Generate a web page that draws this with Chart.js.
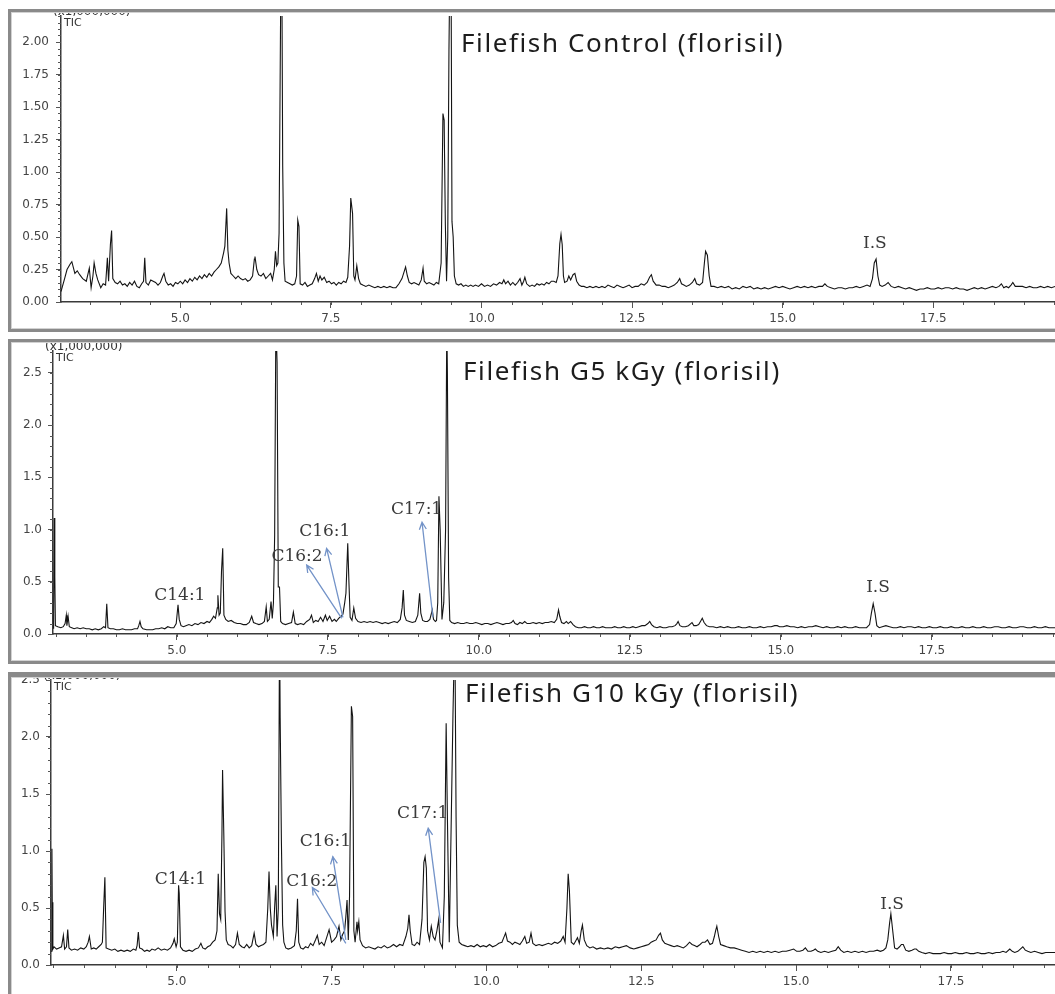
<!DOCTYPE html>
<html lang="en">
<head>
<meta charset="UTF-8">
<title>Filefish TIC chromatograms (florisil)</title>
<style>
    body {
        margin: 0;
        width: 1055px;
        height: 994px;
        overflow: hidden;
        position: relative;
        background: #fff;
    }
    canvas {
        position: absolute;
        left: 0;
    }
    .frame {
        position: absolute;
        left: 8px;
        width: 1100px;
        box-sizing: border-box;
        border: 3px solid #8a8a8a;
        box-shadow: inset 0 0 0 1px #d2d2d2;
        pointer-events: none;
    }
    .title {
        position: absolute;
        font-family: 'Noto Sans', sans-serif;
        font-size: 26px;
        line-height: 26px;
        letter-spacing: 1.6px;
        color: #1c1c1c;
        white-space: nowrap;
    }
</style>
</head>
<body>
    <canvas id="controlChart" width="1055" height="323" style="top:9px"></canvas>
    <canvas id="g5Chart" width="1055" height="325" style="top:339px"></canvas>
    <canvas id="g10Chart" width="1055" height="322" style="top:672px"></canvas>

    <div class="frame" style="top:9px; height:323px"></div>
    <div class="frame" style="top:339px; height:325px"></div>
    <div class="frame" style="top:672px; height:340px; border-top-width:5px"></div>

    <div class="title" style="left:461px; top:29px">Filefish Control (florisil)</div>
    <div class="title" style="left:463px; top:357px">Filefish G5 kGy (florisil)</div>
    <div class="title" style="left:465px; top:679px">Filefish G10 kGy (florisil)</div>

<script src="https://cdn.jsdelivr.net/npm/chart.js"></script>
<script>
// retention time ticks (min) shared by all three runs
const xTickValues = [5.0, 7.5, 10.0, 12.5, 15.0, 17.5];
// intensity ticks, x1,000,000
const yTicksControl = [0, 0.25, 0.5, 0.75, 1.0, 1.25, 1.5, 1.75, 2.0];
const yTicksIrradiated = [0, 0.5, 1.0, 1.5, 2.0, 2.5];

// TIC traces as [time (min), intensity (x1,000,000)]
const controlTic = [
    [3.02,0.08],[3.08,0.18],[3.12,0.25],[3.17,0.29],[3.20,0.31],[3.25,0.22],[3.29,0.24],[3.33,0.21],[3.38,0.18],
    [3.44,0.16],[3.47,0.22],[3.49,0.26],[3.52,0.11],[3.55,0.20],[3.57,0.30],[3.60,0.22],[3.63,0.17],[3.68,0.11],
    [3.72,0.14],[3.76,0.13],[3.79,0.34],[3.81,0.16],[3.84,0.44],[3.86,0.55],[3.88,0.18],[3.92,0.15],[3.96,0.14],
    [4.00,0.16],[4.04,0.13],[4.08,0.14],[4.12,0.12],[4.16,0.15],[4.20,0.13],[4.24,0.16],[4.28,0.12],[4.32,0.11],
    [4.36,0.14],[4.39,0.16],[4.41,0.34],[4.43,0.15],[4.47,0.13],[4.51,0.17],[4.55,0.16],[4.59,0.15],[4.63,0.13],
    [4.67,0.15],[4.71,0.20],[4.73,0.22],[4.76,0.16],[4.80,0.13],[4.84,0.14],[4.88,0.12],[4.92,0.15],[4.96,0.14],
    [5.00,0.16],[5.04,0.14],[5.08,0.17],[5.12,0.15],[5.16,0.18],[5.20,0.16],[5.24,0.19],[5.28,0.17],[5.32,0.20],
    [5.36,0.18],[5.40,0.21],[5.44,0.19],[5.48,0.22],[5.52,0.20],[5.56,0.23],[5.60,0.25],[5.64,0.27],[5.68,0.30],
    [5.72,0.38],[5.74,0.43],[5.77,0.72],[5.79,0.40],[5.81,0.30],[5.84,0.22],[5.88,0.20],[5.92,0.18],[5.96,0.20],
    [6.00,0.18],[6.04,0.17],[6.08,0.18],[6.12,0.16],[6.16,0.17],[6.20,0.20],[6.23,0.33],[6.24,0.35],[6.27,0.25],
    [6.30,0.21],[6.34,0.20],[6.38,0.22],[6.42,0.18],[6.46,0.20],[6.50,0.22],[6.53,0.17],[6.56,0.25],[6.58,0.39],
    [6.60,0.28],[6.62,0.30],[6.64,0.53],[6.68,3.20],[6.70,1.05],[6.72,0.30],[6.74,0.16],[6.78,0.15],[6.82,0.14],
    [6.86,0.13],[6.90,0.14],[6.93,0.20],[6.95,0.63],[6.97,0.58],[6.99,0.14],[7.03,0.13],[7.07,0.15],[7.11,0.12],
    [7.15,0.13],[7.19,0.14],[7.23,0.18],[7.26,0.22],[7.29,0.16],[7.32,0.20],[7.35,0.17],[7.39,0.19],[7.43,0.15],
    [7.47,0.16],[7.51,0.14],[7.55,0.15],[7.59,0.13],[7.63,0.15],[7.67,0.14],[7.71,0.16],[7.75,0.15],[7.78,0.19],
    [7.81,0.43],[7.83,0.80],[7.86,0.68],[7.88,0.20],[7.90,0.17],[7.93,0.28],[7.96,0.18],[7.99,0.14],[8.03,0.13],
    [8.08,0.12],[8.13,0.13],[8.18,0.12],[8.23,0.11],[8.28,0.12],[8.33,0.11],[8.38,0.12],[8.43,0.11],[8.48,0.12],
    [8.53,0.11],[8.58,0.11],[8.63,0.14],[8.68,0.18],[8.72,0.24],[8.74,0.27],[8.77,0.20],[8.80,0.15],[8.84,0.14],
    [8.88,0.15],[8.92,0.14],[8.96,0.13],[9.00,0.17],[9.03,0.26],[9.05,0.16],[9.09,0.14],[9.13,0.15],[9.17,0.14],
    [9.21,0.13],[9.25,0.15],[9.29,0.14],[9.33,0.30],[9.36,1.45],[9.38,1.40],[9.40,0.60],[9.42,0.16],[9.44,0.50],
    [9.46,1.94],[9.49,3.20],[9.51,0.62],[9.53,0.50],[9.55,0.20],[9.58,0.14],[9.62,0.13],[9.66,0.14],[9.70,0.12],
    [9.74,0.13],[9.78,0.12],[9.82,0.13],[9.86,0.12],[9.90,0.13],[9.95,0.12],[10.00,0.14],[10.05,0.12],[10.10,0.13],
    [10.15,0.12],[10.20,0.14],[10.25,0.13],[10.30,0.15],[10.34,0.14],[10.37,0.17],[10.40,0.14],[10.44,0.16],
    [10.48,0.13],[10.52,0.15],[10.56,0.13],[10.60,0.15],[10.64,0.18],[10.67,0.13],[10.70,0.16],[10.72,0.19],
    [10.75,0.14],[10.80,0.12],[10.84,0.13],[10.88,0.12],[10.92,0.14],[10.96,0.13],[11.00,0.14],[11.04,0.13],
    [11.08,0.15],[11.12,0.14],[11.16,0.16],[11.20,0.16],[11.24,0.15],[11.27,0.20],[11.30,0.45],[11.32,0.52],
    [11.34,0.44],[11.36,0.20],[11.38,0.15],[11.42,0.16],[11.45,0.20],[11.48,0.17],[11.52,0.21],[11.55,0.22],
    [11.58,0.16],[11.62,0.13],[11.66,0.12],[11.70,0.12],[11.75,0.11],[11.80,0.12],[11.85,0.11],[11.90,0.12],
    [11.95,0.11],[12.00,0.12],[12.05,0.11],[12.10,0.13],[12.15,0.12],[12.20,0.11],[12.25,0.13],[12.30,0.12],
    [12.35,0.11],[12.40,0.12],[12.45,0.13],[12.50,0.11],[12.55,0.12],[12.60,0.12],[12.65,0.14],[12.70,0.13],
    [12.75,0.15],[12.79,0.19],[12.82,0.21],[12.85,0.16],[12.90,0.13],[12.95,0.13],[13.00,0.12],[13.05,0.12],
    [13.10,0.11],[13.15,0.12],[13.20,0.13],[13.25,0.15],[13.29,0.18],[13.32,0.14],[13.36,0.13],[13.40,0.12],
    [13.45,0.13],[13.50,0.15],[13.54,0.18],[13.57,0.14],[13.62,0.13],[13.67,0.15],[13.70,0.30],[13.72,0.39],
    [13.75,0.36],[13.78,0.20],[13.81,0.12],[13.86,0.12],[13.92,0.11],[13.98,0.12],[14.04,0.11],[14.10,0.12],
    [14.16,0.10],[14.22,0.11],[14.28,0.10],[14.34,0.12],[14.40,0.11],[14.46,0.12],[14.52,0.10],[14.58,0.11],
    [14.64,0.10],[14.70,0.11],[14.76,0.10],[14.82,0.11],[14.88,0.12],[14.94,0.11],[15.00,0.12],[15.06,0.11],
    [15.12,0.10],[15.18,0.11],[15.24,0.12],[15.30,0.11],[15.36,0.12],[15.42,0.11],[15.48,0.12],[15.54,0.11],
    [15.60,0.12],[15.66,0.12],[15.70,0.14],[15.74,0.12],[15.80,0.11],[15.86,0.10],[15.92,0.11],[15.98,0.11],
    [16.04,0.10],[16.10,0.11],[16.16,0.11],[16.22,0.12],[16.28,0.11],[16.34,0.12],[16.40,0.13],[16.45,0.12],
    [16.49,0.18],[16.52,0.30],[16.55,0.33],[16.58,0.20],[16.61,0.13],[16.65,0.12],[16.70,0.13],[16.75,0.15],
    [16.80,0.12],[16.86,0.11],[16.92,0.12],[16.98,0.11],[17.04,0.10],[17.10,0.11],[17.16,0.10],[17.22,0.09],
    [17.28,0.10],[17.34,0.10],[17.40,0.11],[17.46,0.10],[17.52,0.10],[17.58,0.11],[17.64,0.10],[17.70,0.11],
    [17.76,0.11],[17.82,0.10],[17.88,0.11],[17.94,0.10],[18.00,0.10],[18.06,0.09],[18.12,0.10],[18.18,0.11],
    [18.24,0.10],[18.30,0.11],[18.36,0.10],[18.42,0.11],[18.48,0.12],[18.54,0.11],[18.59,0.12],[18.63,0.14],
    [18.67,0.11],[18.71,0.12],[18.75,0.11],[18.79,0.13],[18.82,0.15],[18.86,0.12],[18.92,0.12],[18.98,0.12],
    [19.04,0.11],[19.10,0.12],[19.16,0.11],[19.22,0.11],[19.28,0.12],[19.34,0.11],[19.40,0.12],[19.46,0.11],
    [19.52,0.12]
];

const g5Tic = [
    [2.96,0.05],[2.97,1.11],[2.98,0.55],[2.99,0.08],[3.03,0.07],[3.08,0.06],[3.12,0.07],[3.15,0.10],[3.17,0.18],
    [3.18,0.08],[3.20,0.17],[3.22,0.07],[3.26,0.06],[3.30,0.05],[3.35,0.06],[3.40,0.05],[3.45,0.06],[3.50,0.05],
    [3.55,0.05],[3.60,0.04],[3.65,0.05],[3.70,0.04],[3.75,0.05],[3.79,0.07],[3.82,0.06],[3.84,0.29],[3.86,0.06],
    [3.90,0.05],[3.95,0.05],[4.00,0.04],[4.05,0.04],[4.10,0.05],[4.15,0.04],[4.20,0.04],[4.25,0.04],[4.30,0.05],
    [4.35,0.05],[4.37,0.08],[4.39,0.12],[4.41,0.07],[4.44,0.05],[4.50,0.04],[4.55,0.04],[4.60,0.04],[4.65,0.05],
    [4.70,0.05],[4.75,0.06],[4.80,0.05],[4.85,0.07],[4.90,0.06],[4.95,0.06],[4.99,0.10],[5.02,0.28],[5.04,0.14],
    [5.07,0.08],[5.11,0.07],[5.15,0.08],[5.20,0.09],[5.25,0.08],[5.30,0.10],[5.35,0.09],[5.40,0.11],[5.45,0.10],
    [5.50,0.12],[5.54,0.11],[5.58,0.14],[5.61,0.17],[5.64,0.15],[5.67,0.25],[5.68,0.37],[5.70,0.18],[5.72,0.20],
    [5.74,0.60],[5.76,0.82],[5.78,0.18],[5.81,0.14],[5.85,0.12],[5.90,0.13],[5.95,0.11],[6.00,0.10],[6.05,0.10],
    [6.10,0.09],[6.15,0.09],[6.20,0.11],[6.24,0.17],[6.27,0.11],[6.31,0.10],[6.36,0.09],[6.41,0.10],[6.45,0.12],
    [6.48,0.26],[6.50,0.12],[6.53,0.14],[6.56,0.31],[6.58,0.15],[6.60,0.30],[6.62,0.95],[6.64,3.00],[6.66,2.60],
    [6.68,0.45],[6.70,0.45],[6.72,0.12],[6.75,0.10],[6.80,0.09],[6.85,0.10],[6.90,0.11],[6.93,0.21],[6.96,0.10],
    [7.00,0.09],[7.05,0.10],[7.10,0.09],[7.15,0.12],[7.20,0.14],[7.23,0.18],[7.26,0.11],[7.30,0.13],[7.34,0.12],
    [7.38,0.16],[7.42,0.12],[7.46,0.18],[7.49,0.13],[7.53,0.17],[7.57,0.12],[7.61,0.14],[7.64,0.12],[7.68,0.15],
    [7.72,0.17],[7.75,0.19],[7.78,0.30],[7.80,0.39],[7.83,0.87],[7.85,0.49],[7.87,0.16],[7.90,0.13],[7.93,0.25],
    [7.96,0.15],[8.00,0.12],[8.05,0.11],[8.10,0.12],[8.15,0.11],[8.20,0.12],[8.25,0.11],[8.30,0.12],[8.35,0.11],
    [8.40,0.10],[8.45,0.11],[8.50,0.10],[8.55,0.11],[8.60,0.12],[8.65,0.11],[8.70,0.14],[8.73,0.25],[8.75,0.42],
    [8.77,0.18],[8.80,0.13],[8.85,0.12],[8.90,0.11],[8.95,0.12],[8.99,0.18],[9.02,0.39],[9.04,0.20],[9.07,0.13],
    [9.11,0.12],[9.15,0.12],[9.19,0.14],[9.23,0.23],[9.25,0.14],[9.28,0.12],[9.30,0.13],[9.32,0.30],[9.34,1.32],
    [9.36,1.00],[9.39,0.14],[9.42,0.30],[9.45,1.00],[9.47,3.00],[9.48,2.50],[9.50,0.54],[9.52,0.13],[9.55,0.11],
    [9.60,0.10],[9.65,0.11],[9.70,0.10],[9.75,0.10],[9.80,0.11],[9.85,0.10],[9.90,0.10],[9.95,0.11],[10.00,0.10],
    [10.05,0.09],[10.10,0.10],[10.15,0.10],[10.20,0.09],[10.25,0.10],[10.30,0.11],[10.35,0.10],[10.40,0.09],
    [10.45,0.10],[10.50,0.10],[10.54,0.11],[10.57,0.13],[10.60,0.10],[10.64,0.09],[10.68,0.11],[10.72,0.10],
    [10.76,0.12],[10.80,0.10],[10.85,0.10],[10.90,0.11],[10.95,0.10],[11.00,0.11],[11.05,0.10],[11.10,0.11],
    [11.15,0.11],[11.20,0.12],[11.25,0.11],[11.29,0.14],[11.32,0.23],[11.34,0.17],[11.37,0.11],[11.41,0.10],
    [11.45,0.12],[11.48,0.10],[11.52,0.12],[11.56,0.09],[11.60,0.07],[11.65,0.06],[11.70,0.06],[11.75,0.07],
    [11.80,0.06],[11.85,0.06],[11.90,0.07],[11.95,0.06],[12.00,0.06],[12.05,0.07],[12.10,0.06],[12.15,0.06],
    [12.20,0.06],[12.25,0.07],[12.30,0.06],[12.35,0.06],[12.40,0.07],[12.45,0.06],[12.50,0.06],[12.55,0.07],
    [12.60,0.06],[12.65,0.07],[12.70,0.08],[12.75,0.08],[12.80,0.10],[12.83,0.12],[12.86,0.09],[12.90,0.07],
    [12.95,0.06],[13.00,0.07],[13.05,0.06],[13.10,0.06],[13.15,0.07],[13.20,0.07],[13.25,0.08],[13.28,0.10],
    [13.30,0.12],[13.33,0.08],[13.37,0.07],[13.42,0.07],[13.47,0.08],[13.51,0.10],[13.53,0.11],[13.56,0.08],
    [13.60,0.08],[13.64,0.09],[13.67,0.12],[13.70,0.15],[13.73,0.11],[13.77,0.08],[13.82,0.07],[13.88,0.07],
    [13.94,0.06],[14.00,0.07],[14.06,0.06],[14.12,0.07],[14.18,0.06],[14.24,0.06],[14.30,0.07],[14.36,0.06],
    [14.42,0.06],[14.48,0.07],[14.54,0.06],[14.60,0.06],[14.66,0.07],[14.72,0.06],[14.78,0.07],[14.84,0.07],
    [14.90,0.08],[14.94,0.08],[14.98,0.07],[15.04,0.07],[15.10,0.08],[15.16,0.07],[15.22,0.07],[15.28,0.06],
    [15.34,0.07],[15.40,0.06],[15.46,0.07],[15.52,0.07],[15.58,0.08],[15.64,0.07],[15.70,0.06],[15.76,0.07],
    [15.82,0.06],[15.88,0.06],[15.94,0.07],[16.00,0.06],[16.06,0.07],[16.12,0.06],[16.18,0.06],[16.24,0.07],
    [16.30,0.06],[16.36,0.06],[16.42,0.06],[16.47,0.09],[16.50,0.20],[16.53,0.29],[16.56,0.20],[16.59,0.08],
    [16.63,0.06],[16.68,0.07],[16.74,0.08],[16.80,0.07],[16.86,0.06],[16.92,0.06],[16.98,0.07],[17.04,0.06],
    [17.10,0.07],[17.16,0.07],[17.22,0.06],[17.28,0.07],[17.34,0.06],[17.40,0.06],[17.46,0.07],[17.52,0.06],
    [17.58,0.06],[17.64,0.07],[17.70,0.06],[17.76,0.06],[17.82,0.07],[17.88,0.06],[17.94,0.06],[18.00,0.07],
    [18.06,0.06],[18.12,0.06],[18.18,0.07],[18.24,0.06],[18.30,0.06],[18.36,0.07],[18.42,0.06],[18.48,0.06],
    [18.54,0.07],[18.60,0.07],[18.66,0.06],[18.72,0.06],[18.78,0.07],[18.84,0.06],[18.90,0.06],[18.96,0.07],
    [19.02,0.07],[19.08,0.06],[19.14,0.06],[19.20,0.07],[19.26,0.06],[19.32,0.06],[19.38,0.07],[19.44,0.06],
    [19.50,0.06],[19.54,0.06]
];

const g10Tic = [
    [2.97,0.12],[2.985,1.02],[2.99,0.55],[3.00,0.14],[3.02,0.16],[3.06,0.14],[3.10,0.15],[3.14,0.16],[3.17,0.26],
    [3.19,0.14],[3.22,0.16],[3.24,0.31],[3.26,0.15],[3.30,0.13],[3.35,0.14],[3.40,0.13],[3.45,0.15],[3.50,0.14],
    [3.54,0.16],[3.57,0.20],[3.59,0.25],[3.62,0.14],[3.66,0.15],[3.70,0.14],[3.74,0.16],[3.78,0.18],[3.80,0.20],
    [3.82,0.50],[3.84,0.77],[3.86,0.15],[3.90,0.14],[3.95,0.13],[4.00,0.14],[4.05,0.12],[4.10,0.13],[4.15,0.12],
    [4.20,0.13],[4.25,0.12],[4.30,0.14],[4.34,0.13],[4.36,0.17],[4.38,0.29],[4.40,0.15],[4.44,0.14],[4.48,0.12],
    [4.52,0.13],[4.56,0.12],[4.60,0.14],[4.65,0.13],[4.70,0.15],[4.75,0.13],[4.80,0.14],[4.85,0.13],[4.90,0.15],
    [4.94,0.19],[4.96,0.23],[4.99,0.16],[5.01,0.20],[5.03,0.70],[5.04,0.63],[5.06,0.16],[5.10,0.13],[5.15,0.12],
    [5.20,0.13],[5.25,0.12],[5.30,0.14],[5.35,0.15],[5.39,0.19],[5.42,0.15],[5.46,0.14],[5.50,0.16],[5.54,0.17],
    [5.58,0.20],[5.62,0.22],[5.65,0.30],[5.67,0.80],[5.69,0.45],[5.71,0.40],[5.73,1.15],[5.74,1.71],[5.76,1.15],
    [5.78,0.47],[5.80,0.22],[5.83,0.18],[5.87,0.17],[5.91,0.15],[5.95,0.18],[5.98,0.28],[6.01,0.18],[6.05,0.16],
    [6.09,0.15],[6.13,0.18],[6.17,0.15],[6.21,0.17],[6.25,0.28],[6.28,0.18],[6.32,0.16],[6.36,0.17],[6.40,0.18],
    [6.44,0.20],[6.47,0.50],[6.49,0.82],[6.51,0.50],[6.53,0.35],[6.56,0.25],[6.58,0.50],[6.60,0.70],[6.62,0.25],
    [6.64,0.50],[6.66,3.00],[6.67,2.17],[6.69,1.08],[6.71,0.35],[6.73,0.20],[6.76,0.15],[6.80,0.14],[6.85,0.15],
    [6.90,0.17],[6.93,0.30],[6.95,0.58],[6.97,0.20],[7.00,0.15],[7.04,0.14],[7.08,0.16],[7.12,0.15],[7.16,0.19],
    [7.20,0.17],[7.24,0.22],[7.27,0.26],[7.30,0.18],[7.34,0.20],[7.38,0.17],[7.42,0.24],[7.46,0.31],[7.50,0.20],
    [7.54,0.22],[7.58,0.25],[7.62,0.34],[7.65,0.22],[7.68,0.27],[7.71,0.30],[7.73,0.42],[7.75,0.57],[7.77,0.22],
    [7.79,0.60],[7.82,2.27],[7.84,2.18],[7.86,0.30],[7.88,0.20],[7.91,0.38],[7.92,0.30],[7.94,0.38],[7.96,0.22],
    [8.00,0.17],[8.05,0.15],[8.10,0.16],[8.15,0.15],[8.20,0.14],[8.25,0.16],[8.30,0.15],[8.35,0.17],[8.40,0.15],
    [8.45,0.16],[8.50,0.18],[8.55,0.16],[8.60,0.18],[8.65,0.17],[8.70,0.25],[8.73,0.32],[8.75,0.44],[8.77,0.30],
    [8.80,0.18],[8.84,0.17],[8.88,0.20],[8.92,0.18],[8.96,0.40],[8.99,0.90],[9.01,0.95],[9.03,0.85],[9.05,0.30],
    [9.08,0.22],[9.11,0.34],[9.14,0.25],[9.17,0.22],[9.20,0.30],[9.23,0.40],[9.25,0.20],[9.29,0.15],[9.32,0.60],
    [9.35,2.12],[9.37,1.30],[9.40,0.20],[9.43,1.20],[9.46,2.20],[9.49,3.00],[9.51,1.30],[9.53,0.35],[9.56,0.20],
    [9.60,0.18],[9.65,0.17],[9.70,0.16],[9.75,0.17],[9.80,0.16],[9.85,0.18],[9.90,0.16],[9.95,0.17],[10.00,0.16],
    [10.05,0.18],[10.10,0.16],[10.15,0.17],[10.20,0.19],[10.25,0.20],[10.28,0.24],[10.31,0.28],[10.34,0.21],
    [10.38,0.20],[10.42,0.18],[10.46,0.20],[10.50,0.19],[10.54,0.18],[10.58,0.21],[10.62,0.25],[10.65,0.19],
    [10.69,0.20],[10.72,0.28],[10.75,0.19],[10.80,0.17],[10.85,0.18],[10.90,0.17],[10.95,0.18],[11.00,0.19],
    [11.05,0.18],[11.10,0.20],[11.15,0.19],[11.20,0.21],[11.24,0.25],[11.27,0.20],[11.30,0.50],[11.32,0.80],
    [11.34,0.65],[11.37,0.20],[11.41,0.18],[11.45,0.22],[11.47,0.24],[11.50,0.19],[11.53,0.30],[11.55,0.35],
    [11.58,0.22],[11.62,0.17],[11.67,0.15],[11.72,0.16],[11.78,0.14],[11.84,0.15],[11.90,0.14],[11.96,0.15],
    [12.02,0.14],[12.08,0.16],[12.14,0.15],[12.20,0.16],[12.26,0.17],[12.32,0.15],[12.38,0.14],[12.44,0.15],
    [12.50,0.16],[12.56,0.17],[12.62,0.18],[12.66,0.20],[12.70,0.21],[12.74,0.22],[12.78,0.26],[12.81,0.28],
    [12.84,0.22],[12.88,0.19],[12.93,0.18],[12.98,0.17],[13.03,0.16],[13.08,0.17],[13.13,0.16],[13.18,0.15],
    [13.23,0.17],[13.28,0.20],[13.32,0.18],[13.36,0.17],[13.40,0.16],[13.45,0.18],[13.49,0.20],[13.53,0.20],
    [13.57,0.22],[13.61,0.18],[13.65,0.19],[13.68,0.25],[13.70,0.30],[13.72,0.34],[13.75,0.25],[13.78,0.18],
    [13.83,0.17],[13.88,0.16],[13.94,0.15],[14.00,0.15],[14.06,0.14],[14.12,0.13],[14.18,0.12],[14.24,0.11],
    [14.30,0.12],[14.36,0.11],[14.42,0.12],[14.48,0.11],[14.54,0.12],[14.60,0.11],[14.66,0.12],[14.72,0.11],
    [14.78,0.12],[14.84,0.12],[14.90,0.13],[14.96,0.14],[15.01,0.12],[15.06,0.12],[15.11,0.13],[15.15,0.15],
    [15.19,0.12],[15.24,0.12],[15.28,0.13],[15.31,0.14],[15.35,0.12],[15.40,0.11],[15.46,0.12],[15.52,0.11],
    [15.58,0.12],[15.64,0.13],[15.68,0.16],[15.72,0.13],[15.77,0.11],[15.83,0.12],[15.89,0.11],[15.95,0.12],
    [16.01,0.11],[16.07,0.12],[16.13,0.11],[16.19,0.12],[16.25,0.12],[16.31,0.13],[16.36,0.12],[16.41,0.13],
    [16.45,0.15],[16.48,0.22],[16.51,0.37],[16.53,0.45],[16.56,0.30],[16.59,0.15],[16.63,0.14],[16.67,0.16],
    [16.70,0.18],[16.73,0.18],[16.77,0.13],[16.82,0.12],[16.87,0.13],[16.91,0.14],[16.94,0.14],[16.98,0.12],
    [17.03,0.11],[17.09,0.10],[17.15,0.11],[17.21,0.10],[17.27,0.10],[17.33,0.10],[17.39,0.11],[17.45,0.10],
    [17.51,0.10],[17.57,0.11],[17.63,0.10],[17.69,0.10],[17.75,0.11],[17.81,0.10],[17.87,0.10],[17.93,0.11],
    [17.99,0.10],[18.05,0.10],[18.11,0.11],[18.17,0.10],[18.23,0.11],[18.29,0.11],[18.34,0.12],[18.39,0.11],
    [18.45,0.14],[18.49,0.12],[18.53,0.11],[18.58,0.12],[18.62,0.14],[18.66,0.16],[18.70,0.13],[18.74,0.12],
    [18.79,0.11],[18.85,0.12],[18.91,0.11],[18.97,0.10],[19.03,0.11],[19.09,0.11],[19.15,0.11],[19.18,0.11]
];

// peak labels: text anchor and optional arrow (peak -> label), in time/intensity units
const controlNotes = [
    { text: 'I.S', at: [16.53, 0.45] }
];
const g5Notes = [
    { text: 'C14:1', at: [5.05, 0.37] },
    { text: 'C16:2', at: [6.99, 0.74], from: [7.73, 0.15], to: [7.15, 0.66] },
    { text: 'C16:1', at: [7.45, 0.98], from: [7.75, 0.16], to: [7.48, 0.82] },
    { text: 'C17:1', at: [8.97, 1.19], from: [9.24, 0.16], to: [9.06, 1.07] },
    { text: 'I.S', at: [16.61, 0.44] }
];
const g10Notes = [
    { text: 'C14:1', at: [5.06, 0.75] },
    { text: 'C16:2', at: [7.18, 0.73], from: [7.73, 0.19], to: [7.19, 0.68] },
    { text: 'C16:1', at: [7.40, 1.08], from: [7.73, 0.22], to: [7.52, 0.95] },
    { text: 'C17:1', at: [8.97, 1.33], from: [9.26, 0.37], to: [9.06, 1.20] },
    { text: 'I.S', at: [16.55, 0.53] }
];

Chart.defaults.font.family = '"DejaVu Sans", sans-serif';

// short ticks between the labelled ones on both axes
const minorTicks = {
    id: 'minorTicks',
    afterDraw(chart, args, opts) {
        const { ctx, chartArea } = chart;
        const x = chart.scales.x, y = chart.scales.y;
        ctx.save();
        ctx.strokeStyle = '#555';
        ctx.lineWidth = 1;
        ctx.beginPath();
        for (let i = Math.ceil(x.min / opts.xStep); i * opts.xStep <= x.max; i++) {
            const px = Math.round(x.getPixelForValue(i * opts.xStep)) + 0.5;
            ctx.moveTo(px, chartArea.bottom);
            ctx.lineTo(px, chartArea.bottom + 3);
        }
        for (let i = 0; i * opts.yStep <= y.max + 1e-9; i++) {
            const py = Math.round(y.getPixelForValue(i * opts.yStep)) + 0.5;
            ctx.moveTo(chartArea.left - 3, py);
            ctx.lineTo(chartArea.left, py);
        }
        ctx.stroke();
        ctx.restore();
    }
};

function drawArrow(ctx, x0, y0, x1, y1) {
    const a = Math.atan2(y1 - y0, x1 - x0);
    const head = 8, spread = 0.45;
    ctx.beginPath();
    ctx.moveTo(x0, y0);
    ctx.lineTo(x1, y1);
    ctx.moveTo(x1 - head * Math.cos(a - spread), y1 - head * Math.sin(a - spread));
    ctx.lineTo(x1, y1);
    ctx.lineTo(x1 - head * Math.cos(a + spread), y1 - head * Math.sin(a + spread));
    ctx.stroke();
}

// TIC header plus compound labels and arrows
const peakNotes = {
    id: 'peakNotes',
    afterDatasetsDraw(chart, args, opts) {
        const { ctx, chartArea } = chart;
        const x = chart.scales.x, y = chart.scales.y;
        ctx.save();
        ctx.fillStyle = '#333';
        ctx.font = '12px "DejaVu Sans"';
        ctx.textAlign = 'left';
        ctx.textBaseline = 'alphabetic';
        ctx.fillText('(x1,000,000)', chartArea.left - 8, chartArea.top - 1);
        ctx.font = '11px "DejaVu Sans"';
        ctx.textBaseline = 'top';
        ctx.fillText('TIC', chartArea.left + 3, chartArea.top + 2);

        ctx.strokeStyle = '#7393c8';
        ctx.lineWidth = 1.3;
        opts.notes.forEach(n => {
            if (n.from) {
                drawArrow(ctx, x.getPixelForValue(n.from[0]), y.getPixelForValue(n.from[1]),
                    x.getPixelForValue(n.to[0]), y.getPixelForValue(n.to[1]));
            }
        });
        ctx.font = '17px "DejaVu Serif"';
        ctx.fillStyle = '#3a3a3a';
        ctx.textAlign = 'center';
        ctx.textBaseline = 'middle';
        opts.notes.forEach(n => {
            ctx.fillText(n.text, x.getPixelForValue(n.at[0]), y.getPixelForValue(n.at[1]));
        });
        ctx.restore();
    }
};

const panels = [
    { id: 'controlChart', trace: controlTic, notes: controlNotes, xMin: 3.02, xMax: 19.52, yMax: 2.2,
      yTicks: yTicksControl, yDigits: 2, yMinor: 0.05, yWidth: 61, xHeight: 30, padTop: 7, yPad: 7 },
    { id: 'g5Chart', trace: g5Tic, notes: g5Notes, xMin: 2.95, xMax: 19.54, yMax: 2.71,
      yTicks: yTicksIrradiated, yDigits: 1, yMinor: 0.1, yWidth: 53, xHeight: 30, padTop: 12, yPad: 6 },
    { id: 'g10Chart', trace: g10Tic, notes: g10Notes, xMin: 2.97, xMax: 19.18, yMax: 2.5,
      yTicks: yTicksIrradiated, yDigits: 1, yMinor: 0.1, yWidth: 51, xHeight: 29, padTop: 8, yPad: 6 }
];

panels.forEach(p => {
    new Chart(document.getElementById(p.id), {
        type: 'line',
        data: {
            datasets: [{
                data: p.trace.map(([t, v]) => ({ x: t, y: v })),
                borderColor: '#141414',
                borderWidth: 1.1,
                pointRadius: 0,
                tension: 0
            }]
        },
        options: {
            responsive: false,
            animation: false,
            events: [],
            layout: { padding: { top: p.padTop, left: 0, right: 0, bottom: 0 } },
            plugins: {
                legend: { display: false },
                tooltip: { enabled: false },
                minorTicks: { xStep: 0.5, yStep: p.yMinor },
                peakNotes: { notes: p.notes }
            },
            scales: {
                x: {
                    type: 'linear',
                    min: p.xMin,
                    max: p.xMax,
                    afterBuildTicks: s => { s.ticks = xTickValues.map(v => ({ value: v })); },
                    // fixed axis band, no extra room reserved for edge labels
                    afterFit: s => { s.height = p.xHeight; s.paddingLeft = 0; s.paddingRight = 0; },
                    ticks: { callback: v => v.toFixed(1), padding: 4, color: '#444', font: { size: 12 },
                             maxRotation: 0, autoSkip: false },
                    grid: { drawOnChartArea: false, tickLength: 6, color: '#555' },
                    border: { color: '#3a3a3a', width: 1.5 }
                },
                y: {
                    min: 0,
                    max: p.yMax,
                    afterBuildTicks: s => { s.ticks = p.yTicks.map(v => ({ value: v })); },
                    afterFit: s => { s.width = p.yWidth; s.paddingTop = 0; s.paddingBottom = 0; },
                    ticks: { callback: v => v.toFixed(p.yDigits), padding: p.yPad, color: '#444',
                             font: { size: 12 }, autoSkip: false },
                    grid: { drawOnChartArea: false, tickLength: 5, color: '#555' },
                    border: { color: '#3a3a3a', width: 1.5 }
                }
            }
        },
        plugins: [minorTicks, peakNotes]
    });
});
</script>
</body>
</html>
